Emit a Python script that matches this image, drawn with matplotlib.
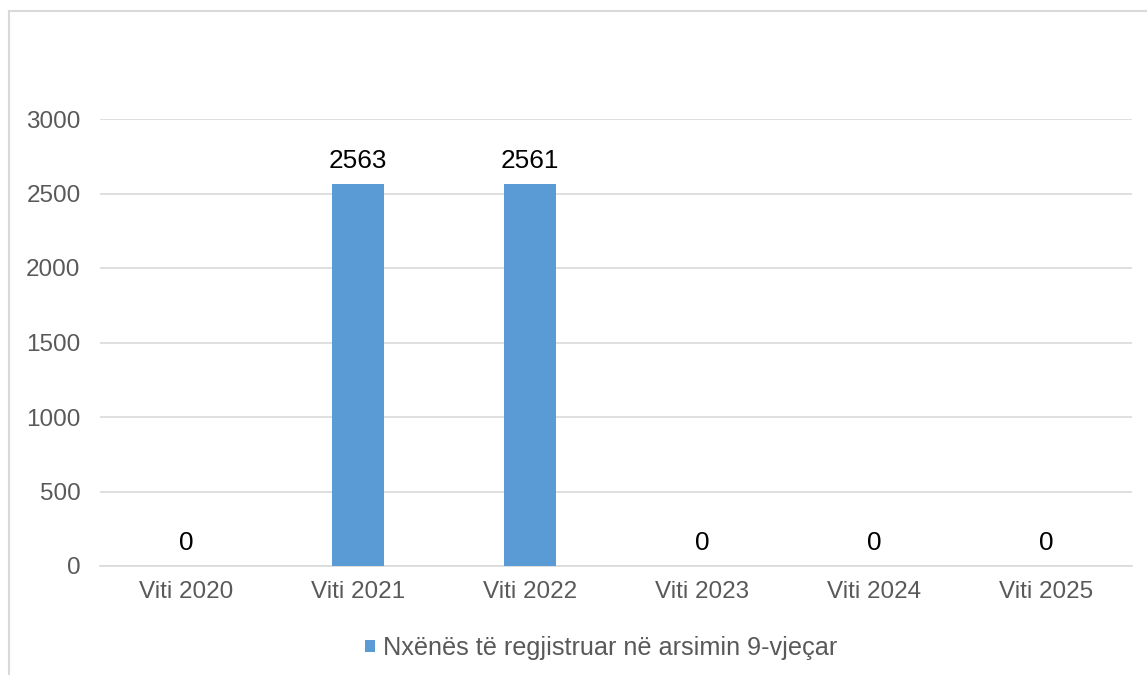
import matplotlib
matplotlib.use("Agg")
import matplotlib.pyplot as plt
from matplotlib.patches import Rectangle

categories = ["Viti 2020", "Viti 2021", "Viti 2022", "Viti 2023", "Viti 2024", "Viti 2025"]
values = [0, 2563, 2561, 0, 0, 0]
series_name = "Nxënës të regjistruar në arsimin 9-vjeçar"
yticks = [0, 500, 1000, 1500, 2000, 2500, 3000]

plt.rcParams['font.family'] = ['Liberation Sans', 'DejaVu Sans']

W, H = 1147, 675
fig = plt.figure(figsize=(W / 100, H / 100), dpi=100)

# outer chart border (only top and left visible)
fig.patches.append(Rectangle((9 / W, -0.1), 1.2, 1 - 11 / H + 0.1, transform=fig.transFigure,
                             fill=False, edgecolor='#D9D9D9', linewidth=1.5))

ax = fig.add_axes([100 / W, 1 - 566 / H, (1132 - 100) / W, (566 - 119) / H])
x = list(range(len(categories)))
ax.bar(x, values, width=0.3, color='#5B9BD5', zorder=3, label=series_name)
ax.set_xlim(-0.5, len(categories) - 0.5)
ax.set_ylim(0, 3000)
ax.set_yticks(yticks)
ax.set_yticklabels([str(t) for t in yticks])
ax.set_xticks(x)
ax.set_xticklabels(categories)
ax.yaxis.grid(True, color='#D9D9D9', linewidth=1.2, zorder=0)
ax.set_axisbelow(True)
for s in ['top', 'right', 'left']:
    ax.spines[s].set_visible(False)
ax.spines['bottom'].set_color('#D9D9D9')
ax.spines['bottom'].set_linewidth(1.2)
ax.tick_params(axis='both', length=0, labelsize=17.5, labelcolor='#595959')
ax.tick_params(axis='y', pad=14)
ax.tick_params(axis='x', pad=11)

for xi, v in zip(x, values):
    ax.annotate(str(v), (xi, v), xytext=(0, 8), textcoords='offset points',
                ha='center', va='bottom', fontsize=18.8, color='#000000')

leg = fig.legend(handles=ax.patches[:1], labels=[series_name], loc='center',
                 bbox_to_anchor=(601 / W, 1 - 648 / H), frameon=False,
                 fontsize=18.2, handlelength=0.4, handleheight=0.4, handletextpad=0.3)
for t in leg.get_texts():
    t.set_color('#595959')

fig.savefig('out.png', dpi=100, facecolor='white')
